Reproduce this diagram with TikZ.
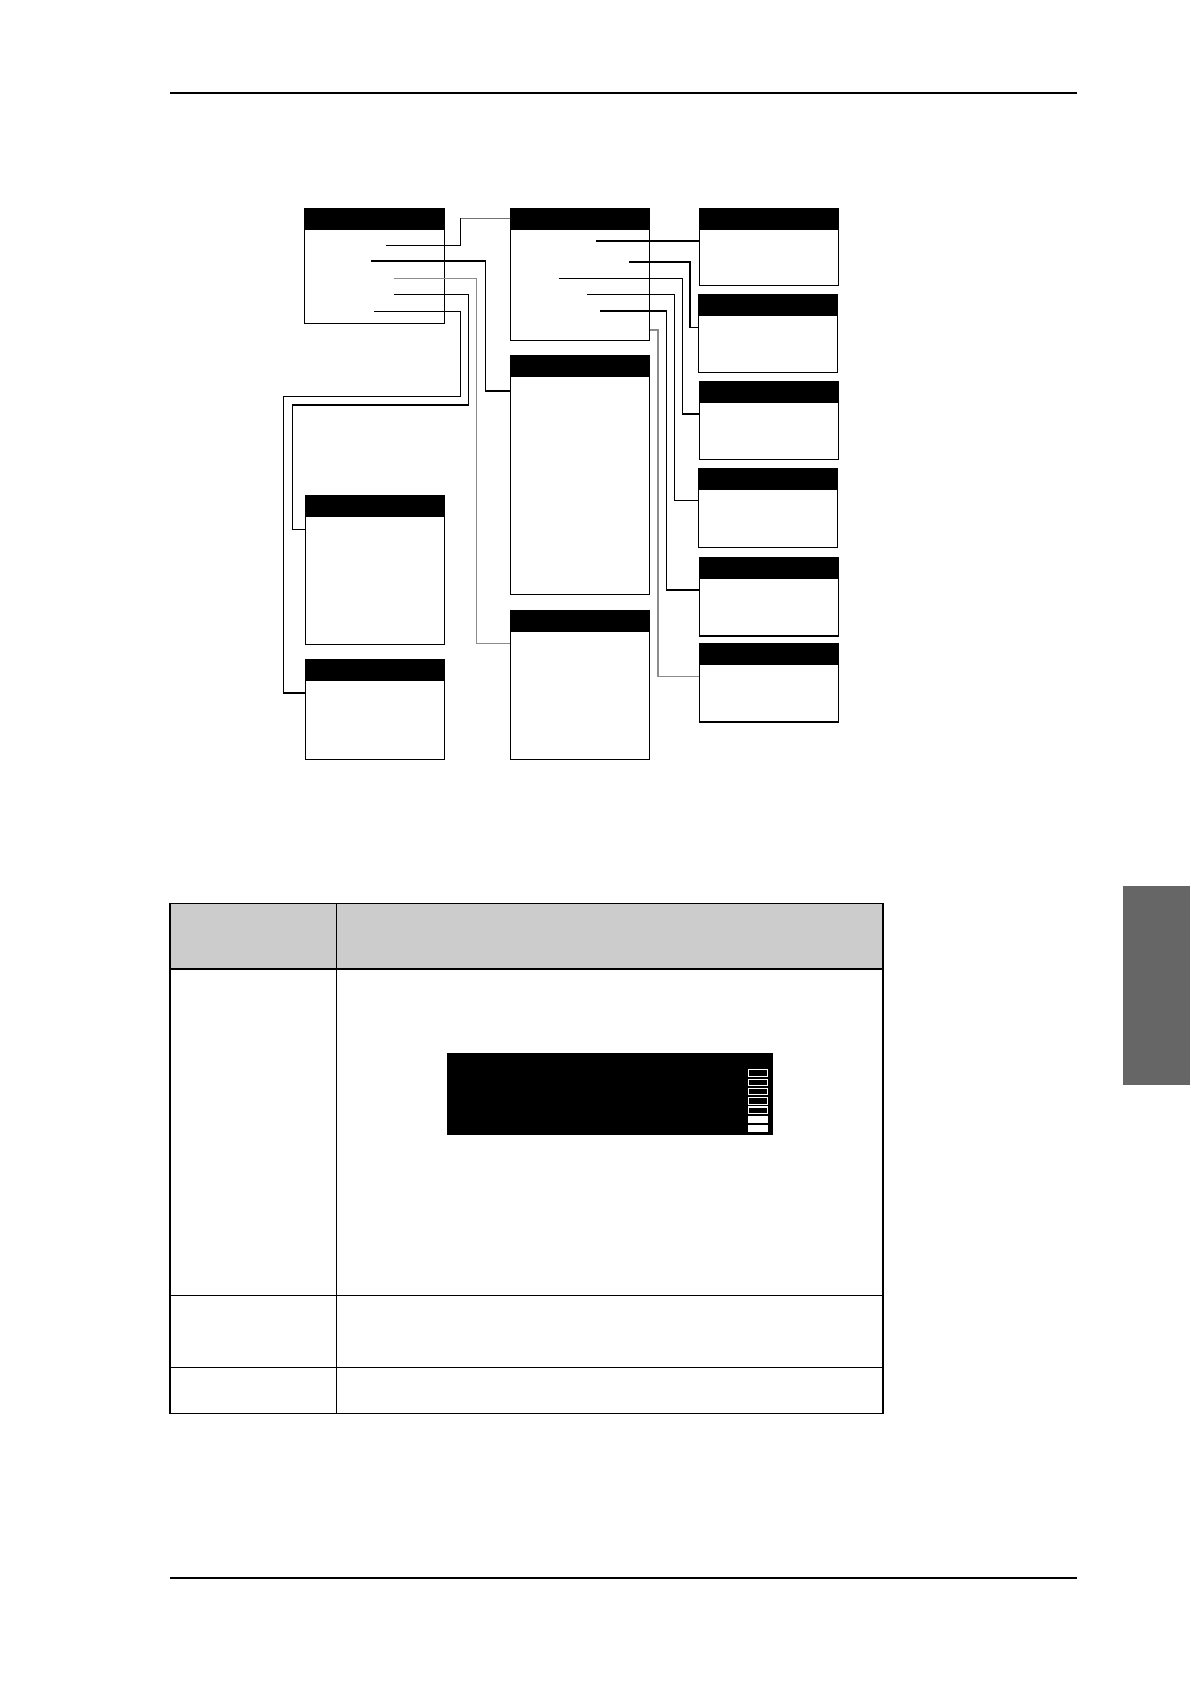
\documentclass[tikz,border=0pt]{standalone}
\usepackage{tikz}
\begin{document}
\begin{tikzpicture}[x=0.5pt,y=-0.5pt,
  box/.style={draw, line width=0.55pt, inner sep=0pt, outer sep=0pt, anchor=north west,
    path picture={\fill (path picture bounding box.north west) rectangle ([yshift=-10.7pt]path picture bounding box.north east);}},
  link/.style={line width=0.55pt, black},
  glink/.style={line width=0.6pt, black!45},
  rule/.style={line width=1pt},
  tline/.style={line width=0.7pt}]
\useasboundingbox (0,0) rectangle (1190,1684);
\newcommand{\bx}[5]{\node[box, minimum width=#4*0.5pt, minimum height=#5*0.5pt] (#1) at (#2,#3) {};}
% rules
\coordinate (t1) at (170,92.7); \coordinate (t2) at (1076.7,92.7);
\coordinate (u1) at (170,1577.7); \coordinate (u2) at (1076.7,1577.7);
\draw[rule] (t1) -- (t2);
\draw[rule] (u1) -- (u2);
% boxes
\bx{A}{304.3}{208.3}{140.4}{115}
\bx{B}{510.3}{208.3}{139.4}{132}
\bx{C}{510.3}{356}{139.4}{238.3}
\bx{D}{510.3}{611}{139.4}{148.3}
\bx{E}{305.3}{496}{139.4}{148.3}
\bx{F}{305.3}{660}{139.4}{99.3}
\bx{R1}{699.3}{208.4}{139.4}{77.3}
\bx{R2}{698.3}{294.2}{139.4}{78.3}
\bx{R3}{699.3}{381.2}{139.4}{78.3}
\bx{R4}{698.3}{469}{139.4}{78.5}
\bx{R5}{699.3}{557.2}{139.4}{78.8}
\bx{R6}{699.3}{644}{139.4}{78}
% start points
\coordinate (sa1) at (386,245.3);
\coordinate (sa2) at (371.3,261);
\coordinate (sa3) at (394,278.3);
\coordinate (sa4) at (394,294.3);
\coordinate (sa5) at (374,311.3);
\coordinate (sb1) at (596,241);
\coordinate (sb2) at (629,262);
\coordinate (sb3) at (558.7,278.5);
\coordinate (sb4) at (587.3,294.3);
\coordinate (sb5) at (600,311);
\coordinate (k1) at (460.5,218.3);
% connectors from A
\draw[link] (sa1) -- (460.5,245.3) -- (k1);
\draw[line width=0.55pt, black!55] (k1) -- (B.west |- k1);
\draw[link] (sa2) -- (485.3,261) -- (485.3,391) -- (C.west |- 0,391);
\draw[glink] (sa3) -- (476.5,278.3) -- (476.5,643.7) -- (D.west |- 0,643.7);
\draw[link] (sa4) -- (468.3,294.3) -- (468.3,405) -- (292.3,405) -- (292.3,529.3) -- (E.west |- 0,529.3);
\draw[link] (sa5) -- (460.3,311.3) -- (460.3,396.3) -- (283.3,396.3) -- (283.3,693) -- (F.west |- 0,693);
% connectors from B
\draw[link] (sb1) -- (R1.west |- 0,241);
\draw[link] (sb2) -- (690,262) -- (690,327.4) -- (R2.west |- 0,327.4);
\draw[link] (sb3) -- (682.3,278.5) -- (682.3,414) -- (R3.west |- 0,414);
\draw[link] (sb4) -- (674.3,294.3) -- (674.3,500.6) -- (R4.west |- 0,500.6);
\draw[link] (sb5) -- (666.3,311) -- (666.3,590) -- (R5.west |- 0,590);
\draw[glink] (B.east |- 0,330) -- (657.9,330) -- (657.9,676.6) -- (R6.west |- 0,676.6);
% table
\fill[black!20] (170,903.3) rectangle (883,969);
\draw[tline] (170,903.3) rectangle (883,1413.3);
\draw[tline] (170,969) -- (883,969);
\draw[tline] (170,1295.3) -- (883,1295.3);
\draw[tline] (170,1367.3) -- (883,1367.3);
\draw[tline] (336.3,903.3) -- (336.3,1413.3);
% LCD
\fill[black] (447,1053) rectangle (773,1135);
\foreach \ya/\yb in {1069.3/1076.3,1079.3/1085.7,1088.3/1094.7,1097.3/1104.3,1107/1113.7}
  \draw[white, line width=0.6pt] (748.8,\ya) rectangle (767.3,\yb);
\foreach \ya/\yb in {1116.3/1123,1125.3/1132}
  \fill[white] (748.3,\ya) rectangle (767.7,\yb);
% side tab
\fill[black!60] (1123,885.7) rectangle (1190,1084.7);
\end{tikzpicture}
\end{document}
